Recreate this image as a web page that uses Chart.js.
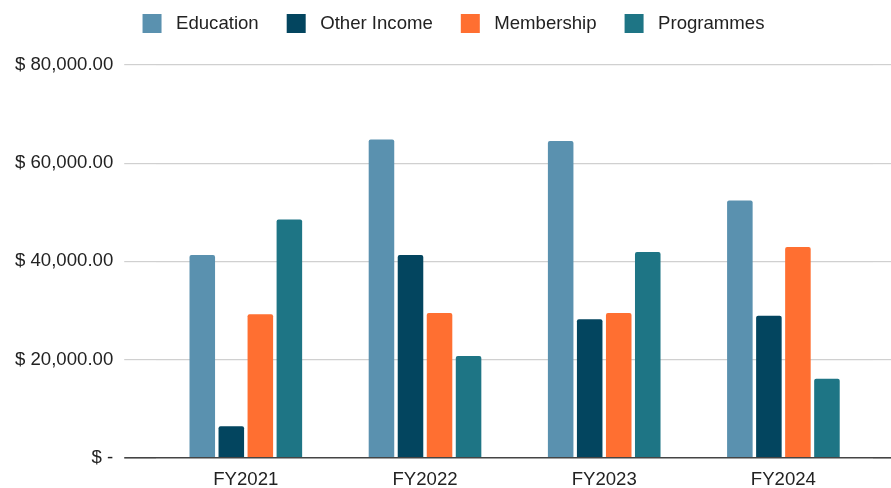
<!DOCTYPE html>
<html>
<head>
<meta charset="utf-8">
<script src="https://cdn.jsdelivr.net/npm/chart.js@4.4.1/dist/chart.umd.min.js"></script>
<style>
  html, body { margin: 0; padding: 0; background: #fff; }
  #wrap { width: 891px; height: 488px; }
</style>
</head>
<body>
<div id="wrap"><canvas id="revenueChart"></canvas></div>
<script>
// ---------------------- DATOS ----------------------
const years = ["FY2021", "FY2022", "FY2023", "FY2024"];
const education = [41300, 64800, 64500, 52400];
const otherIncome = [6400, 41300, 28200, 28900];
const membership = [29200, 29500, 29500, 42900];
const programmes = [48500, 20700, 41900, 16100];
const yTicks = [0, 20000, 40000, 60000, 80000];

const FONT = "'Liberation Sans', Arial, sans-serif";
const TEXT = "#222222";

function money(v) {
  if (v === 0) return "$ -";
  return "$ " + v.toLocaleString("en-US", { minimumFractionDigits: 2, maximumFractionDigits: 2 });
}

const gridColor = (ctx) => (ctx.tick && ctx.tick.value === 0 ? "#444444" : "#d0d0d0");
const gridWidth = (ctx) => (ctx.tick && ctx.tick.value === 0 ? 1.6 : 1.2);

// espacio extra debajo de la leyenda y pequeño desplazamiento a la derecha
const legendGap = {
  id: "legendGap",
  beforeInit(chart) {
    const fit = chart.legend.fit;
    chart.legend.fit = function () {
      fit.call(this);
      this.height += 22;
    };
  },
  afterLayout(chart) {
    chart.legend.left += 6;
    chart.legend.right += 6;
  },
};

new Chart(document.getElementById("revenueChart"), {
  type: "bar",
  data: {
    labels: years,
    datasets: [
      { label: "Education", data: education, backgroundColor: "#5a91af" },
      { label: "Other Income", data: otherIncome, backgroundColor: "#03455f" },
      { label: "Membership", data: membership, backgroundColor: "#ff6f31" },
      { label: "Programmes", data: programmes, backgroundColor: "#1e7585" },
    ],
  },
  plugins: [legendGap],
  options: {
    responsive: true,
    maintainAspectRatio: false,
    animation: false,
    layout: { padding: { left: 4, right: 0, top: -14, bottom: -14 } },
    datasets: {
      bar: {
        barPercentage: 0.88,
        categoryPercentage: 0.648,
        borderRadius: 2,
        borderSkipped: "start",
      },
    },
    plugins: {
      tooltip: { enabled: false },
      legend: {
        position: "top",
        labels: {
          color: TEXT,
          font: { family: FONT, size: 18.6 },
          boxWidth: 19,
          boxHeight: 19,
          padding: 28,
          generateLabels: (chart) =>
            Chart.defaults.plugins.legend.labels.generateLabels(chart).map((l) => {
              l.text = " " + l.text;
              l.lineWidth = 0;
              return l;
            }),
        },
      },
    },
    scales: {
      x: {
        grid: { display: false, drawTicks: false },
        border: { display: false },
        ticks: { color: TEXT, font: { family: FONT, size: 18.6 }, padding: 11 },
      },
      y: {
        min: 0,
        max: 80000,
        afterBuildTicks: (axis) => { axis.ticks = yTicks.map((v) => ({ value: v })); },
        grid: { color: gridColor, lineWidth: gridWidth, tickLength: 32 },
        border: { display: false },
        ticks: { color: TEXT, font: { family: FONT, size: 18.6 }, padding: 11, callback: (v) => money(v) },
      },
      yRight: {
        position: "right",
        min: 0,
        max: 80000,
        afterBuildTicks: (axis) => { axis.ticks = yTicks.map((v) => ({ value: v })); },
        grid: { color: gridColor, lineWidth: gridWidth, tickLength: 18, drawOnChartArea: false },
        border: { display: false },
        ticks: { display: false },
      },
    },
  },
});
</script>
</body>
</html>
